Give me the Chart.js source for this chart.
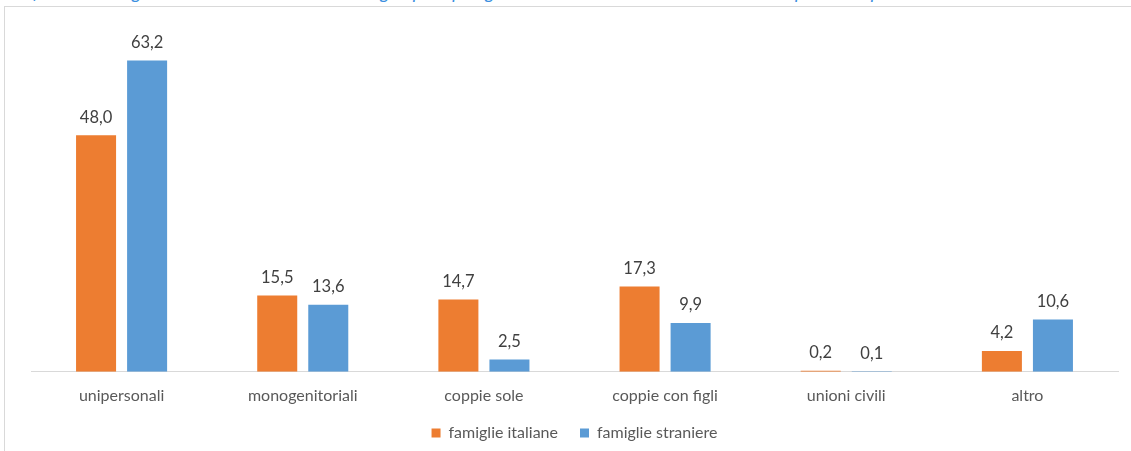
<!DOCTYPE html>
<html>
<head>
<meta charset="utf-8">
<script src="https://cdn.jsdelivr.net/npm/chart.js@4.4.1/dist/chart.umd.min.js"></script>
<style>
  html, body { margin: 0; padding: 0; background: #fff; }
  body { width: 1131px; height: 451px; position: relative; overflow: hidden; }
  #title { position: absolute; left: 0; top: 0; width: 1131px; height: 6px; overflow: hidden; }
  #title span { position: absolute; left: 5px; top: -19px; white-space: nowrap; line-height: 22px;
    font-family: Lato, "Open Sans", sans-serif; font-style: italic; font-size: 18.5px; color: #3b8fe0; }
  #frame { position: absolute; left: 4px; top: 6px; width: 1150px; height: 470px; border: 1px solid #d9d9d9; box-sizing: border-box; }
  #wrap { position: absolute; left: 0; top: 0; width: 1131px; height: 451px; }
</style>
</head>
<body>
<div id="title"><span>Grafico 3 – Famiglie residenti nel Comune di Bologna per tipologia e cittadinanza dell’intestatario – composizione percentuale</span></div>
<div id="frame"></div>
<div id="wrap"><canvas id="c" width="1131" height="451"></canvas></div>
<script>
const categories = ["unipersonali", "monogenitoriali", "coppie sole", "coppie con figli", "unioni civili", "altro"];
const seriesNames = ["famiglie italiane", "famiglie straniere"];
const italiane = [48.0, 15.5, 14.7, 17.3, 0.2, 4.2];
const straniere = [63.2, 13.6, 2.5, 9.9, 0.1, 10.6];
const colors = ["#ED7D31", "#5B9BD5"];

const valueLabels = {
  id: "valueLabels",
  afterDatasetsDraw(chart) {
    const ctx = chart.ctx;
    ctx.save();
    ctx.font = "16.5px Lato, 'Open Sans', sans-serif";
    ctx.fillStyle = "#404040";
    ctx.textAlign = "center";
    ctx.textBaseline = "middle";
    chart.data.datasets.forEach((ds, i) => {
      const meta = chart.getDatasetMeta(i);
      meta.data.forEach((bar, j) => {
        const v = ds.data[j];
        ctx.fillText(v.toFixed(1).replace(".", ","), bar.x, bar.y - 18);
      });
    });
    ctx.restore();
  }
};

new Chart(document.getElementById("c"), {
  type: "bar",
  data: {
    labels: categories,
    datasets: [
      { label: seriesNames[0], data: italiane, backgroundColor: colors[0] },
      { label: seriesNames[1], data: straniere, backgroundColor: colors[1] }
    ]
  },
  options: {
    responsive: false,
    animation: false,
    devicePixelRatio: 1,
    layout: { padding: { left: 31, right: 13, top: 27, bottom: 0 } },
    datasets: { bar: { categoryPercentage: 0.5635, barPercentage: 0.784 } },
    scales: {
      x: {
        grid: { display: false, drawTicks: false },
        border: { display: true, color: "#d9d9d9", width: 1 },
        ticks: { color: "#595959", font: { family: "Lato, 'Open Sans', sans-serif", size: 16 }, padding: 14, maxRotation: 0 }
      },
      y: { display: false, min: 0, max: 70 }
    },
    plugins: {
      legend: {
        position: "bottom",
        labels: {
          boxWidth: 9, boxHeight: 9, color: "#595959", padding: 6,
          font: { family: "Lato, 'Open Sans', sans-serif", size: 16 },
          generateLabels(chart) {
            const items = Chart.defaults.plugins.legend.labels.generateLabels(chart);
            items.forEach((it, i) => { if (i < items.length - 1) it.text = it.text + "\u2002\u2002"; });
            return items;
          }
        }
      },
      tooltip: { enabled: false }
    }
  },
  plugins: [valueLabels]
});
</script>
</body>
</html>
